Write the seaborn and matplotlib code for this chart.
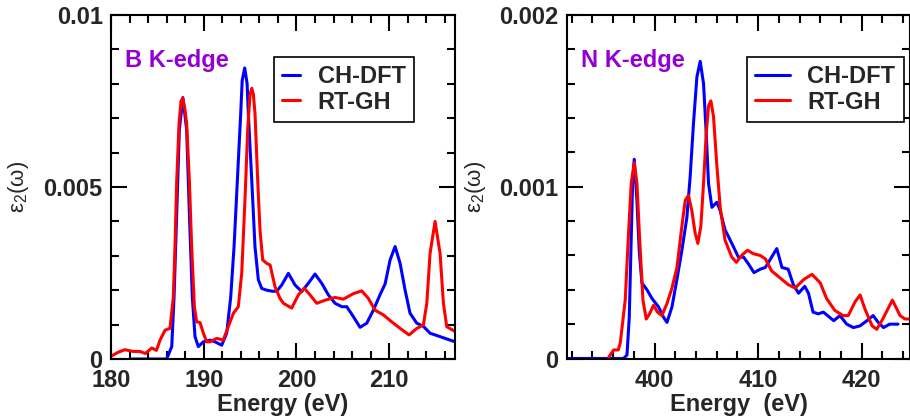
import numpy as np
import pandas as pd
import seaborn as sns
import matplotlib
matplotlib.use("Agg")
import matplotlib.pyplot as plt
from matplotlib.ticker import MultipleLocator, FixedLocator

# ---------------- data: B K-edge ----------------
b_ch_e = [182.2, 184.0, 186.0, 186.55, 186.8, 187.09, 187.37, 187.75, 188.16, 188.45, 188.77, 189.06,
          189.42, 189.96, 190.68, 191.22, 191.94, 192.48, 192.91, 193.27, 193.63, 193.99, 194.15, 194.42,
          194.68, 194.81, 195.18, 195.53, 195.89, 196.26, 196.8, 197.4, 197.87, 198.41, 199.13, 199.85,
          200.57, 201.28, 202.0, 202.73, 203.45, 204.16, 204.9, 205.43, 206.14, 206.86, 207.58, 208.3,
          209.0, 209.56, 210.1, 210.64, 211.18, 211.72, 212.25, 212.98, 213.69, 214.41, 215.49, 217.1]
b_ch_v = [0.0, 0.0, 0.0, 0.00036, 0.0018, 0.00424, 0.00666, 0.0076, 0.00666, 0.00424, 0.0018, 0.00065,
          0.00036, 0.0005, 0.00055, 0.0005, 0.0004, 0.00075, 0.0018, 0.00326, 0.0052, 0.00714, 0.0081,
          0.00846, 0.0080, 0.00714, 0.0052, 0.00326, 0.0023, 0.00205, 0.0020, 0.00197, 0.00197, 0.00215,
          0.00249, 0.00215, 0.00196, 0.0022, 0.00247, 0.0022, 0.00186, 0.00162, 0.00152, 0.00152, 0.00123,
          0.00092, 0.00104, 0.00142, 0.00186, 0.00218, 0.00288, 0.00327, 0.00278, 0.0020, 0.00133, 0.00104,
          0.00095, 0.00075, 0.00065, 0.0005]
b_rt_e = [180.0, 180.8, 181.5, 182.4, 183.1, 183.7, 184.4, 184.9, 185.29, 185.83, 186.36, 186.72, 186.9,
          187.09, 187.34, 187.55, 187.73, 187.95, 188.16, 188.45, 188.7, 188.99, 189.24, 189.6, 189.96,
          190.32, 190.68, 191.4, 192.1, 192.65, 193.2, 193.73, 194.1, 194.46, 194.74, 195.0, 195.18, 195.35,
          195.53, 195.82, 196.07, 196.36, 196.8, 197.16, 197.69, 198.23, 198.59, 199.49, 200.2, 200.85,
          201.47, 202.19, 203.1, 204.16, 205.06, 206.14, 207.04, 207.76, 208.48, 209.38, 210.28, 211.18,
          212.15, 212.98, 213.69, 214.06, 214.41, 214.95, 215.49, 215.85, 216.21, 217.1]
b_rt_v = [0.00008, 0.0002, 0.00027, 0.00022, 0.00022, 0.00016, 0.00032, 0.00025, 0.00055, 0.00084, 0.00089,
          0.0018, 0.00327, 0.0052, 0.00685, 0.0075, 0.00758, 0.0073, 0.00685, 0.0052, 0.00326, 0.00152,
          0.00108, 0.00106, 0.00075, 0.0005, 0.0005, 0.0006, 0.00055, 0.00094, 0.00133, 0.00152, 0.0025,
          0.0047, 0.00666, 0.0077, 0.00787, 0.0077, 0.00714, 0.0052, 0.00375, 0.00288, 0.00278, 0.00273,
          0.0021, 0.00176, 0.00162, 0.00148, 0.00186, 0.00206, 0.00186, 0.00162, 0.00171, 0.00179, 0.00174,
          0.0019, 0.00198, 0.00176, 0.00142, 0.00128, 0.00108, 0.00089, 0.0007, 0.00089, 0.00099, 0.00162,
          0.00307, 0.0040, 0.00307, 0.00162, 0.00094, 0.0008]

# ---------------- data: N K-edge ----------------
n_ch_e = [391.6, 395.0, 397.0, 397.34, 397.56, 397.72, 397.88, 398.04, 398.3, 398.52, 398.78, 399.27,
          399.75, 400.39, 400.87, 401.2, 401.68, 402.16, 402.64, 403.12, 403.44, 403.76, 404.09, 404.41,
          404.73, 404.99, 405.21, 405.54, 406.02, 406.34, 406.8, 407.46, 408.1, 408.6, 409.07, 409.6,
          410.2, 410.7, 411.3, 411.8, 412.3, 412.9, 413.4, 413.9, 414.5, 414.86, 415.3, 415.8, 416.3,
          417.3, 417.9, 418.55, 419.2, 419.84, 420.5, 421.1, 421.6, 422.1, 422.7, 423.5]
n_ch_v = [0.0, 0.0, 0.0, 0.00002, 0.00024, 0.00063, 0.00102, 0.00116, 0.00092, 0.00063, 0.00044, 0.0004,
          0.00035, 0.0003, 0.00024, 0.00021, 0.0003, 0.00046, 0.00063, 0.00082, 0.00106, 0.00137, 0.00164,
          0.00173, 0.0016, 0.00131, 0.00102, 0.00088, 0.00091, 0.00086, 0.00075, 0.00067, 0.00059, 0.00059,
          0.00055, 0.0005, 0.00052, 0.00053, 0.00059, 0.00064, 0.00053, 0.00052, 0.00043, 0.00038, 0.00042,
          0.00038, 0.00027, 0.00026, 0.00027, 0.00022, 0.00025, 0.0002, 0.00018, 0.00019, 0.00022, 0.00025,
          0.00021, 0.00018, 0.0002, 0.0002]
n_rt_e = [395.5, 396.05, 396.5, 396.69, 397.17, 397.49, 397.75, 398.04, 398.3, 398.55, 398.88, 399.2,
          399.52, 399.9, 400.29, 400.71, 401.2, 401.68, 402.16, 402.64, 402.96, 403.28, 403.6, 403.92,
          404.18, 404.47, 404.73, 404.99, 405.21, 405.44, 405.69, 406.02, 406.34, 406.8, 407.46, 407.9,
          408.4, 408.97, 409.55, 410.2, 410.7, 411.3, 412.1, 412.9, 413.57, 414.4, 415.2, 416.0, 416.6,
          417.4, 418.2, 418.7, 419.36, 419.84, 420.3, 421.0, 421.45, 422.03, 422.96, 423.7, 424.18, 424.66]
n_rt_v = [0.0, 0.00005, 0.00005, 0.00009, 0.00034, 0.00073, 0.00102, 0.00114, 0.00102, 0.00071, 0.00034,
          0.00023, 0.00026, 0.00031, 0.00027, 0.00025, 0.00032, 0.00041, 0.00053, 0.00077, 0.00092, 0.00095,
          0.00086, 0.00073, 0.00067, 0.00077, 0.00102, 0.00131, 0.00147, 0.0015, 0.00141, 0.00112, 0.00088,
          0.00069, 0.00059, 0.00056, 0.0006, 0.00063, 0.00061, 0.0006, 0.00058, 0.00051, 0.00047, 0.00043,
          0.00041, 0.00046, 0.00049, 0.00044, 0.00035, 0.00028, 0.00025, 0.00025, 0.00033, 0.00037, 0.00029,
          0.00019, 0.00017, 0.00023, 0.00034, 0.00025, 0.00023, 0.00023]

series_names = ["CH-DFT", "RT-GH"]
panel_titles = ["B K-edge", "N K-edge"]
xlabels = ["Energy (eV)", "Energy  (eV)"]
left_xticks = [180, 190, 200, 210]
right_xticks = [400, 410, 420]
left_yticks = [0, 0.005, 0.01]
left_ytick_labels = ["0", "0.005", "0.01"]
right_yticks = [0, 0.001, 0.002]
right_ytick_labels = ["0", "0.001", "0.002"]

# ---------------- style ----------------
sns.set_theme(style="ticks")
plt.rcParams["font.family"] = ["Liberation Sans", "DejaVu Sans"]
plt.rcParams["font.weight"] = "bold"
plt.rcParams["mathtext.default"] = "regular"

fig = plt.figure(figsize=(9.1, 4.2), dpi=100)
W, H = 910, 420
ax1 = fig.add_axes([111 / W, 1 - 359 / H, 344 / W, 344 / H])
ax2 = fig.add_axes([567 / W, 1 - 358.5 / H, 343 / W, 343.5 / H])

colors = {"CH-DFT": "#0000ff", "RT-GH": "#ff0000"}


def make_df(e1, v1, e2, v2):
    return pd.concat([
        pd.DataFrame({"E": e1, "v": v1, "s": series_names[0]}),
        pd.DataFrame({"E": e2, "v": v2, "s": series_names[1]}),
    ], ignore_index=True)


panels = [
    (ax1, make_df(b_ch_e, b_ch_v, b_rt_e, b_rt_v), (180, 217.1), (0, 0.01), left_xticks,
     left_yticks, left_ytick_labels, 2, 0.001, panel_titles[0], xlabels[0], 0.474, -0.233, 0.75),
    (ax2, make_df(n_ch_e, n_ch_v, n_rt_e, n_rt_v), (391.55, 424.66), (0, 0.002), right_xticks,
     right_yticks, right_ytick_labels, 2, 0.0002, panel_titles[1], xlabels[1], 0.525, -0.230, 1.45),
]

for (ax, df, xl, yl, xt, yt, ytl, xminor, yminor, title, xlab, legx, ylx, hlen) in panels:
    sns.lineplot(data=df, x="E", y="v", hue="s", palette=colors, ax=ax,
                 estimator=None, sort=False, linewidth=2.2)
    for ln in ax.get_lines():
        ln.set_solid_joinstyle("round")
        ln.set_solid_capstyle("round")
    ax.set_xlim(*xl)
    ax.set_ylim(*yl)
    ax.xaxis.set_major_locator(FixedLocator(xt))
    ax.xaxis.set_minor_locator(MultipleLocator(xminor))
    ax.set_yticks(yt)
    ax.set_yticklabels(ytl)
    ax.yaxis.set_minor_locator(MultipleLocator(yminor))
    ax.tick_params(which="both", direction="in", top=True, right=True, width=1.5, color="black")
    ax.tick_params(which="major", length=11.5, pad=6, labelsize=17)
    ax.tick_params(axis="x", which="major", pad=7.5)
    ax.tick_params(which="minor", length=6)
    for lab in ax.get_xticklabels() + ax.get_yticklabels():
        lab.set_fontweight("bold")
    for sp in ax.spines.values():
        sp.set_linewidth(1.5)
        sp.set_color("black")
        sp.set_visible(True)
    ax.set_xlabel(xlab, fontsize=17, fontweight="bold", labelpad=0.5)
    ax.set_ylabel("ε$_2$(ω)", fontsize=16, fontweight="normal")
    ax.yaxis.set_label_coords(ylx, 0.5)
    ax.text(0.042, 0.85, title, transform=ax.transAxes, color="#9400d3",
            fontsize=17, fontweight="bold", va="baseline", ha="left")
    leg = ax.legend(loc="upper left", bbox_to_anchor=(legx, 0.878), fontsize=17,
                    frameon=True, fancybox=False, edgecolor="black", framealpha=1,
                    handlelength=hlen, handletextpad=0.75, labelspacing=0.1,
                    borderpad=0.35, borderaxespad=0, title=None)
    leg.get_frame().set_linewidth(1.2)
    for t in leg.get_texts():
        t.set_fontweight("bold")
    for h in leg.get_lines():
        h.set_linewidth(2.2)

fig.savefig("out.png", dpi=100)
